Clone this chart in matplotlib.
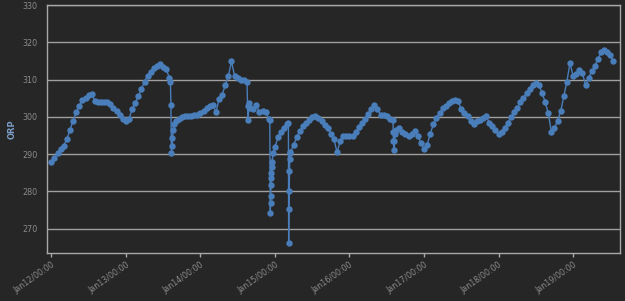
import matplotlib
matplotlib.use('Agg')
import matplotlib.pyplot as plt
import matplotlib.dates as mdates
import pandas as pd

# hourly ORP readings from Jan12 00:00
orp_hourly = [
    288, 289, 290.3, 291.5, 292.3, 294, 296.5, 299, 301.2, 303, 304.5, 305,
    305.8, 306.2, 304.3, 304, 304, 304, 304, 303.5, 302.5, 301.5, 300.5, 299.5,
    299, 299.5, 302, 303.8, 305.5, 307.5, 309.5, 311, 312, 313, 313.8, 314.2,
    313.5, 312.8, 310.5, 294.4, 299, 299.5, 300, 300.2, 300.3, 300.3, 300.4, 300.5,
    301, 301.5, 302.5, 303, 303.3, 301.2, 304.8, 306, 308.5, 311, 314.9, 311,
    310.5, 310, 309.8, 309.5, 302.5, 302, 303.3, 301.2, 301.5, 301.2, 299.5, 288,
    292, 294.5, 296, 297, 298, 290.5, 292.5, 294.5, 296.3, 297.5, 298.5, 299.3,
    300, 300.2, 299.8, 299, 297.8, 297, 295.5, 294, 290.5, 293.5, 295, 295,
    295, 295, 296, 297.2, 298.3, 299.5, 300.8, 302, 303.3, 302, 300.6, 300.5,
    300.2, 299.5, 299.3, 296.5, 297, 296, 295.3, 294.8, 295.5, 296.1, 295, 293,
    291.5, 292.5, 295.5, 298, 299.8, 301, 302.3, 303, 303.8, 304.3, 304.5, 304.3,
    302, 301, 300.2, 299, 298, 298.8, 299.3, 299.8, 300.2, 298.5, 297.5, 296.6,
    295.5, 296, 297, 298.5, 300, 301.3, 302.5, 304, 305, 306.5, 307.5, 308.7,
    309, 308.5, 306.5, 304, 301, 296, 297, 299, 301.5, 305.5, 309.5, 314.5,
    311, 311.5, 312.7, 311.8, 308.5, 310.5, 312.2, 313.8, 315.5, 317.3, 318, 317.5,
    316.5, 315,
]

# extra readings around the sudden drops
extra_times = [
    "2015-01-13 14:20", "2015-01-13 14:30", "2015-01-13 14:40", "2015-01-13 14:50",
    "2015-01-13 15:15", "2015-01-13 15:35",
    "2015-01-14 15:10", "2015-01-14 15:20", "2015-01-14 15:40",
    "2015-01-14 22:20", "2015-01-14 22:30", "2015-01-14 22:34", "2015-01-14 22:38",
    "2015-01-14 22:42", "2015-01-14 22:46", "2015-01-14 22:50", "2015-01-14 22:55",
    "2015-01-14 23:30",
    "2015-01-15 04:20", "2015-01-15 04:25", "2015-01-15 04:30", "2015-01-15 04:35",
    "2015-01-15 04:40", "2015-01-15 04:45", "2015-01-15 04:52",
    "2015-01-16 14:05", "2015-01-16 14:10", "2015-01-16 14:15", "2015-01-16 14:25",
    "2015-01-16 14:35",
]
extra_orp = [
    309.5, 303.3, 290.2, 292.1,
    296.6, 298.0,
    303.0, 299.3, 303.7,
    299.3, 274.1, 277.0, 278.7,
    281.8, 283.7, 285.0, 286.5,
    290.3,
    298.3, 266.2, 275.2, 280.0,
    285.4, 288.6, 290.2,
    296.0, 293.5, 291.2, 293.5,
    295.5,
]

hourly = pd.Series(orp_hourly,
                   index=pd.date_range("2015-01-12 00:00", periods=len(orp_hourly), freq="h"))
extra = pd.Series(extra_orp, index=pd.to_datetime(extra_times))
orp = pd.concat([hourly, extra]).sort_index()

bg = '#262626'
fig = plt.figure(figsize=(6.25, 3.01), dpi=100, facecolor=bg)
ax = fig.add_axes([0.0752, 0.1595, 0.9168, 0.8235], facecolor=bg)

ax.plot(orp.index, orp.values, color='#4a7ebb', linewidth=1.0,
        marker='o', markersize=4.6, markeredgewidth=0)

ax.set_ylim(263.5, 330)
ax.set_yticks([270, 280, 290, 300, 310, 320, 330])
start = pd.Timestamp("2015-01-12 00:00")
ax.set_xlim(start - pd.Timedelta(hours=1.4), start + pd.Timedelta(hours=183.1))
ax.xaxis.set_major_locator(mdates.DayLocator())
ax.xaxis.set_major_formatter(mdates.DateFormatter('%b%d/%H:%M'))

ax.grid(axis='y', color='#a0a0a0', linewidth=1.0)
ax.set_axisbelow(True)
for s in ax.spines.values():
    s.set_color('#a8a8a8')
    s.set_linewidth(1.0)

ax.tick_params(axis='y', length=0, pad=7, labelsize=5.8, labelcolor='#8a8a8a')
ax.tick_params(axis='x', length=3, width=1, color='#a8a8a8', pad=2,
               labelsize=5.8, labelcolor='#8a8a8a')
for lbl in ax.get_xticklabels():
    lbl.set_rotation(35)
    lbl.set_ha('right')
    lbl.set_rotation_mode('anchor')

ax.set_ylabel('ORP', color='#7a9cc6', fontsize=6, fontweight='bold', labelpad=4)

fig.savefig('out.png', dpi=100, facecolor=bg)
